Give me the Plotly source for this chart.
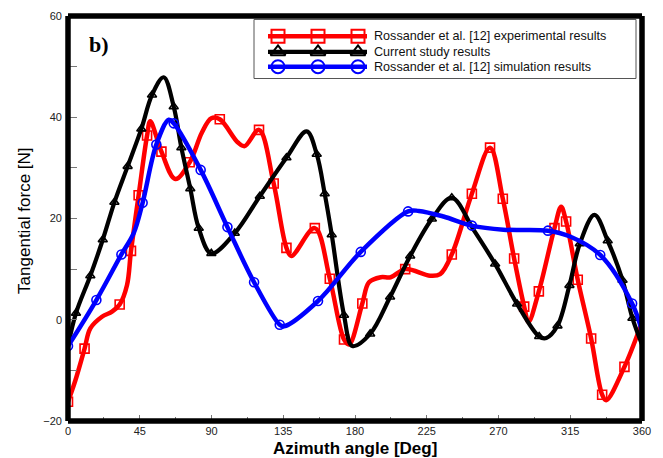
import plotly.graph_objects as go

# ---------------- data ----------------
red_x = [0, 4.6, 10.4, 14, 21.3, 27.6, 32.4, 37, 39.5, 44.3, 49.6, 51.6, 58.6, 67.3, 76.3, 84, 89.9, 95.2,
         106.6, 110.8, 119.8, 129, 137, 140.1, 154.8, 164.2, 173.1, 176.3, 184.6, 188.8, 196.2, 202.4, 211.5,
         227.1, 233.4, 240.7, 253.3, 264.7, 272.7, 279.8, 286.1, 288.8, 295.3, 305.1, 309.3, 312.4, 319.7,
         328.1, 335, 337.5, 349, 360]
red_y = [-16.2, -12, -5.7, -1.7, 0.6, 1.6, 3.0, 6.8, 13.6, 24.6, 36.4, 39.2, 33.2, 27.8, 31.1, 37, 39.8, 39.6,
         35.0, 34.3, 37.5, 26.9, 14.2, 12.6, 18.1, 8.1, -3.9, -4.9, 3.2, 7.4, 8.4, 8.4, 10.0,
         8.7, 9.0, 12.9, 24.9, 34.0, 23.9, 12.1, 2.6, -0.4, 5.6, 18.1, 22.3, 19.4, 7.9,
         -3.7, -14.8, -15.9, -9.3, -0.5]
red_mx = [0, 10.4, 32.4, 39.5, 44.3, 49.6, 58.6, 76.3, 95.2, 119.8, 129, 137, 154.8, 164.2, 173.1, 184.6,
          211.5, 240.7, 253.3, 264.7, 272.7, 279.8, 286.1, 295.3, 305.1, 312.4, 319.7, 328.1, 335, 349]
red_my = [-16.2, -5.7, 3.0, 13.6, 24.6, 36.4, 33.2, 31.1, 39.6, 37.5, 26.9, 14.2, 18.1, 8.1, -3.9, 3.2,
          10.0, 12.9, 24.9, 34.0, 23.9, 12.1, 2.6, 5.6, 18.1, 19.4, 7.9, -3.7, -14.8, -9.3]

blk_x = [0, 5, 14, 21.8, 29.1, 37.4, 46, 52.7, 60, 66.3, 71.1, 76.7, 82, 89.9, 104.6, 120.3, 137, 149.7,
         156, 161, 165.4, 173.1, 178.4, 189.5, 202, 214.6, 228.2, 240.7, 254.3, 267.9, 281.7, 295.5, 300,
         307, 314.5, 321, 330.2, 338.5, 347.8, 354, 360]
blk_y = [-5.2, 1.3, 8.7, 15.8, 23.2, 30.3, 37.7, 44.4, 47.9, 42.1, 34, 25.9, 18.1, 13.1, 17.1, 24.4, 32.0, 37.2,
         32.7, 24.9, 16.8, 0.9, -5.2, -2.8, 4.5, 12.6, 19.9, 24.1, 17.8, 11.0, 3.1, -3.3, -3.6,
         -1.2, 6.8, 15.0, 20.7, 15.6, 7.8, 0.3, -4.9]
blk_mx = [5, 14, 21.8, 29.1, 37.4, 46, 52.7, 66.3, 71.1, 76.7, 82, 89.9, 104.6, 120.3, 137, 156, 161, 165.4,
          173.1, 189.5, 202, 214.6, 228.2, 240.7, 267.9, 281.7, 295.5, 307, 314.5, 321, 338.5, 347.8, 354]
blk_my = [1.3, 8.7, 15.8, 23.2, 30.3, 37.7, 44.4, 42.1, 34, 25.9, 18.1, 13.1, 17.1, 24.4, 32.0, 32.7, 24.9, 16.8,
          0.9, -2.8, 4.5, 12.6, 19.9, 24.1, 11.0, 3.1, -3.3, -1.2, 6.8, 15.0, 15.6, 7.8, 0.3]

blu_x = [0, 17.8, 33.5, 41.2, 46.8, 55.4, 63.2, 66.3, 83.2, 100, 116.7, 132.8, 135.5, 156.8, 183.6, 213.3,
         220, 235.5, 253.3, 273.1, 301, 314.5, 333.8, 353.8, 360]
blu_y = [-5.2, 3.9, 12.9, 17.1, 23.1, 34.6, 39.5, 38.8, 29.6, 18.3, 7.4, -1.0, -1.3, 3.7, 13.4, 21.4,
         21.5, 20.4, 18.6, 17.8, 17.6, 16.5, 12.8, 3.2, -2.3]
blu_mx = [0, 17.8, 33.5, 46.8, 55.4, 66.3, 83.2, 100, 116.7, 132.8, 156.8, 183.6, 213.3, 253.3, 301, 333.8, 353.8]
blu_my = [-5.2, 3.9, 12.9, 23.1, 34.6, 38.8, 29.6, 18.3, 7.4, -1.0, 3.7, 13.4, 21.4, 18.6, 17.6, 12.8, 3.2]

names = ["Rossander et al. [12] experimental results",
         "Current study results",
         "Rossander et al. [12] simulation results"]
x_ticks = [0, 45, 90, 135, 180, 225, 270, 315, 360]
y_ticks = [-20, 0, 20, 40, 60]

RED, BLK, BLU = "#FF0000", "#000000", "#0000FF"
FONT = "Liberation Sans, Arial, sans-serif"

fig = go.Figure()

series = [
    (red_x, red_y, red_mx, red_my, RED, 4.5, "square-open", 9),
    (blk_x, blk_y, blk_mx, blk_my, BLK, 4.2, "triangle-up-open", 8),
    (blu_x, blu_y, blu_mx, blu_my, BLU, 4.5, "circle-open", 9),
]
for lx, ly, mx, my, col, lw, sym, ms in series:
    fig.add_trace(go.Scatter(x=lx, y=ly, mode="lines", line=dict(color=col, width=lw, shape="spline", smoothing=1.0),
                             showlegend=False, hoverinfo="skip"))
    fig.add_trace(go.Scatter(x=mx, y=my, mode="markers",
                             marker=dict(symbol=sym, size=ms, color=col, line=dict(width=1.6, color=col)),
                             showlegend=False, hoverinfo="skip"))

# ---------------- custom legend (overlay pixel-like axes) ----------------
leg_rows = [30, 46, 61]
for (lx, ly, mx, my, col, lw, sym, ms), row, name in zip(series, leg_rows, names):
    fig.add_trace(go.Scatter(x=[268, 367], y=[row, row], xaxis="x2", yaxis="y2", mode="lines",
                             line=dict(color=col, width=lw), showlegend=False, hoverinfo="skip"))
    fig.add_trace(go.Scatter(x=[278, 318, 358], y=[row, row, row], xaxis="x2", yaxis="y2", mode="markers",
                             marker=dict(symbol=sym, size=13, color=col, line=dict(width=2, color=col)),
                             showlegend=False, hoverinfo="skip"))
    fig.add_annotation(x=372, y=row, xref="x2", yref="y2", text=name, showarrow=False,
                       xanchor="left", yanchor="middle", font=dict(family=FONT, size=12.6, color="#111"))

fig.add_shape(type="rect", xref="x2", yref="y2", x0=254, x1=636, y0=13, y1=73,
              line=dict(color="#555", width=1), fillcolor="white", layer="below")

# thick black plot frame: four separate line segments in paper coordinates
for (ax0, ay0, ax1, ay1) in [(0, 0, 1, 0), (0, 1, 1, 1), (0, 0, 0, 1), (1, 0, 1, 1)]:
    fig.add_shape(type="line", xref="paper", yref="paper", x0=ax0, y0=ay0, x1=ax1, y1=ay1,
                  line=dict(color="black", width=5.5), layer="above")

axis_common = dict(showgrid=False, zeroline=False, showline=False,
                   ticks="inside", tickcolor="#777", tickwidth=1,
                   tickfont=dict(family=FONT, size=11, color="#222"))

fig.update_layout(
    width=663, height=458,
    margin=dict(l=68, r=21, t=10, b=37),
    paper_bgcolor="white", plot_bgcolor="white",
    showlegend=False,
    xaxis=dict(range=[0, 360], tickvals=x_ticks, ticklen=6, ticklabelstandoff=2,
               minor=dict(dtick=22.5, ticks="inside", ticklen=4, tickcolor="#777"),
               **axis_common),
    yaxis=dict(range=[-20, 60], tickvals=y_ticks, ticklen=9, ticklabelstandoff=5,
               minor=dict(dtick=10, ticks="inside", ticklen=9, tickcolor="#777"),
               **axis_common),
    xaxis2=dict(overlaying="x", range=[68, 642], visible=False),
    yaxis2=dict(overlaying="y", range=[421, 9.5], visible=False),
)

fig.add_annotation(x=0.5, y=-0.069, xref="paper", yref="paper", text="<b>Azimuth angle [Deg]</b>",
                   showarrow=False, xanchor="center", yanchor="middle",
                   font=dict(family=FONT, size=17, color="black"))
fig.add_annotation(x=-0.075, y=0.494, xref="paper", yref="paper", text="Tangential force [N]",
                   showarrow=False, xanchor="center", yanchor="middle", textangle=-90,
                   font=dict(family=FONT, size=17, color="black"))
fig.add_annotation(x=99, y=38, xref="x2", yref="y2", text="<b>b)</b>", showarrow=False,
                   xanchor="center", yanchor="middle",
                   font=dict(family="Liberation Serif, Times New Roman, serif", size=22, color="black"))

fig.write_html("out.html")
